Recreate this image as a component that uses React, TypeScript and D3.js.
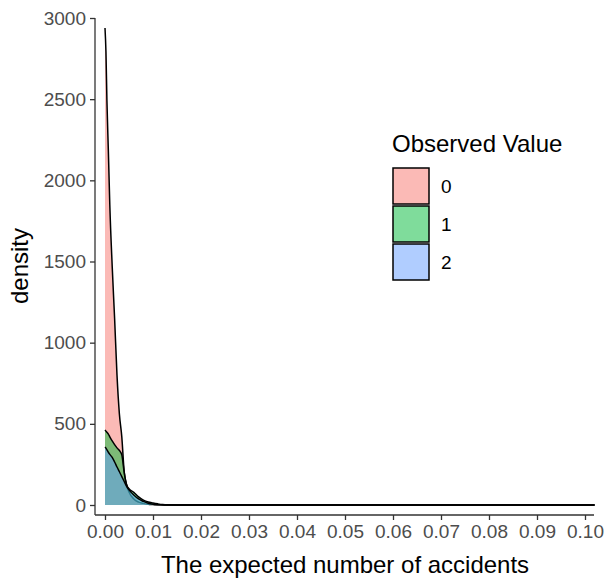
import React, { useRef, useEffect } from "react"
import * as d3 from "d3"

// shared evaluation grid (expected number of accidents)
const xGrid = [0, 0.0002, 0.0004, 0.0007, 0.001, 0.0015, 0.002, 0.0025, 0.003, 0.0035, 0.004, 0.0045, 0.005, 0.006, 0.007, 0.008, 0.009, 0.010, 0.011, 0.012, 0.013, 0.015, 0.102]

const dens0 = [2938, 2790, 2490, 2180, 1850, 1470, 1150, 800, 560, 420, 205, 125, 80, 37, 18, 10, 5, 3, 1, 0, 0, 0, 0]
const dens1 = [462, 455, 448, 437, 420, 395, 372, 352, 336, 310, 200, 125, 100, 78, 50, 30, 18, 12, 7, 3, 1, 0, 0]
const dens2 = [357, 350, 340, 325, 312, 293, 265, 234, 205, 175, 145, 115, 93, 62, 37, 22, 11, 5, 2, 1, 0, 0, 0]

const groups = ["0", "1", "2"]
const groupColors = ["#F8766D", "#00BA38", "#619CFF"]
const xTicks = [0, 0.01, 0.02, 0.03, 0.04, 0.05, 0.06, 0.07, 0.08, 0.09, 0.1]
const yTicks = [0, 500, 1000, 1500, 2000, 2500, 3000]

const font = "'Liberation Sans', Arial, sans-serif"

export default function App() {
  const svgRef = useRef(null)

  useEffect(() => {
    const svg = d3.select(svgRef.current)
    svg.selectAll("*").remove()

    const x = d3.scaleLinear().domain([0, 0.1]).range([105, 585])
    const y = d3.scaleLinear().domain([0, 3000]).range([505, 18])

    const series = [dens0, dens1, dens2]

    const area = d3.area()
      .x((d, i) => x(xGrid[i]))
      .y0(y(0))
      .y1(d => y(d))
      .curve(d3.curveMonotoneX)

    const line = d3.line()
      .x((d, i) => x(xGrid[i]))
      .y(d => y(d))
      .curve(d3.curveMonotoneX)

    const g = svg.append("g")

    series.forEach((s, k) => {
      g.append("path")
        .attr("d", area(s))
        .attr("fill", groupColors[k])
        .attr("fill-opacity", 0.5)
      g.append("path")
        .attr("d", line(s))
        .attr("fill", "none")
        .attr("stroke", "black")
        .attr("stroke-width", 1.5)
    })

    // axes (theme_classic)
    const xAxis = svg.append("g")
      .attr("transform", "translate(0,515)")
      .call(d3.axisBottom(x).tickValues(xTicks).tickFormat(d3.format(".2f")).tickSizeOuter(0).tickSize(5))
    xAxis.select(".domain").attr("d", "M95,0H594").attr("stroke", "#333").attr("stroke-width", 1.3)
    xAxis.selectAll(".tick line").attr("stroke", "#333").attr("stroke-width", 1.3)
    xAxis.selectAll(".tick text")
      .attr("fill", "#4D4D4D")
      .attr("font-family", font)
      .attr("font-size", "19px")
      .attr("dy", "0.75em")
      .attr("y", 9)

    const yAxis = svg.append("g")
      .attr("transform", "translate(95,0)")
      .call(d3.axisLeft(y).tickValues(yTicks).tickFormat(d3.format("d")).tickSizeOuter(0).tickSize(5))
    yAxis.select(".domain").attr("d", "M0,18V515").attr("stroke", "#333").attr("stroke-width", 1.3)
    yAxis.selectAll(".tick line").attr("stroke", "#333").attr("stroke-width", 1.3)
    yAxis.selectAll(".tick text")
      .attr("fill", "#4D4D4D")
      .attr("font-family", font)
      .attr("font-size", "19px")
      .attr("x", -9)

    svg.append("text")
      .attr("x", 345)
      .attr("y", 573)
      .attr("text-anchor", "middle")
      .attr("font-family", font)
      .attr("font-size", "24px")
      .text("The expected number of accidents")

    svg.append("text")
      .attr("transform", "translate(28,266) rotate(-90)")
      .attr("text-anchor", "middle")
      .attr("font-family", font)
      .attr("font-size", "24px")
      .text("density")

    // legend
    const leg = svg.append("g")
    leg.append("text")
      .attr("x", 392)
      .attr("y", 152)
      .attr("font-family", font)
      .attr("font-size", "24px")
      .text("Observed Value")

    groups.forEach((k, i) => {
      leg.append("rect")
        .attr("x", 393)
        .attr("y", 168 + i * 38)
        .attr("width", 36)
        .attr("height", 36)
        .attr("fill", groupColors[i])
        .attr("fill-opacity", 0.5)
        .attr("stroke", "black")
        .attr("stroke-width", 1.5)
      leg.append("text")
        .attr("x", 441)
        .attr("y", 186 + i * 38)
        .attr("dy", "0.35em")
        .attr("font-family", font)
        .attr("font-size", "19px")
        .text(k)
    })
  }, [])

  return (
    <svg ref={svgRef} width={606} height={578}
      style={{ position: "absolute", left: 0, top: 0, background: "white" }} />
  )
}
